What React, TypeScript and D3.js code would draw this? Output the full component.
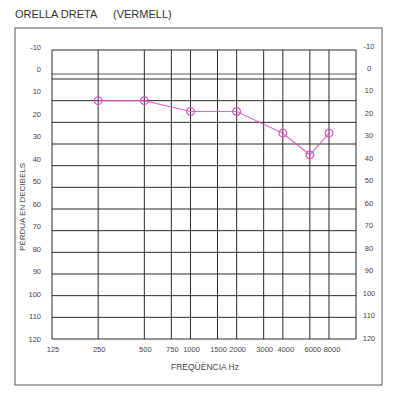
import { useEffect, useRef } from 'react';
import * as d3 from 'd3';

const frequencies = [250, 500, 1000, 2000, 4000, 6000, 8000];
const lossDb = [10, 10, 15, 15, 25, 35, 25];
const freqTicks = [125, 250, 500, 750, 1000, 1500, 2000, 3000, 4000, 6000, 8000];
const dbTicks = [-10, 0, 10, 20, 30, 40, 50, 60, 70, 80, 90, 100, 110, 120];

const W = 400;
const H = 395;
const NARROW = '"Liberation Sans Narrow", "Liberation Sans", Arial, sans-serif';
const SANS = '"Liberation Sans", Arial, sans-serif';
const INK = '#2a2a2a';
const PINK = '#dc4fbf';

const App = () => {
  const svgRef = useRef<SVGSVGElement>(null);

  useEffect(() => {
    const svg = d3.select(svgRef.current);
    svg.selectAll('*').remove();

    // scanned form: top gap (-10..0) is a bit taller than the others
    const x = d3.scaleLog().domain([125, 12000]).range([52, 356]);
    const y = d3.scaleLinear().domain([-10, 0, 120]).range([50, 79, 339]);
    const yLabel = d3.scaleLinear().domain([-10, 120]).range([47, 339]);

    // outer frame
    svg
      .append('rect')
      .attr('x', 15)
      .attr('y', 28)
      .attr('width', 367)
      .attr('height', 357)
      .attr('fill', 'none')
      .attr('stroke', '#555')
      .attr('stroke-width', 1);

    svg
      .append('text')
      .attr('x', 15)
      .attr('y', 18)
      .attr('font-family', SANS)
      .attr('font-size', 11)
      .attr('fill', '#333')
      .text('ORELLA DRETA');

    svg
      .append('text')
      .attr('x', 113)
      .attr('y', 18)
      .attr('font-family', SANS)
      .attr('font-size', 11)
      .attr('fill', '#333')
      .text('(VERMELL)');

    const grid = svg.append('g').attr('stroke', INK).attr('stroke-width', 1);

    grid
      .selectAll('.h')
      .data(dbTicks)
      .join('line')
      .attr('class', 'h')
      .attr('x1', x(125))
      .attr('x2', x(12000))
      .attr('y1', (d) => y(d))
      .attr('y2', (d) => y(d));

    // double rule at 0 dB
    grid
      .append('line')
      .attr('x1', x(125))
      .attr('x2', x(12000))
      .attr('y1', y(0) - 5)
      .attr('y2', y(0) - 5)
      .attr('stroke-width', 0.8);

    grid
      .selectAll('.v')
      .data([...freqTicks, 12000])
      .join('line')
      .attr('class', 'v')
      .attr('x1', (d) => x(d))
      .attr('x2', (d) => x(d))
      .attr('y1', y(-10))
      .attr('y2', y(120));

    const labels = svg
      .append('g')
      .attr('font-family', NARROW)
      .attr('font-size', 7.5)
      .attr('fill', '#444');

    labels
      .selectAll('.yl')
      .data(dbTicks)
      .join('text')
      .attr('class', 'yl')
      .attr('x', 41)
      .attr('y', (d) => yLabel(d))
      .attr('text-anchor', 'end')
      .attr('dominant-baseline', 'central')
      .text((d) => d);

    labels
      .selectAll('.yr')
      .data(dbTicks)
      .join('text')
      .attr('class', 'yr')
      .attr('x', 369)
      .attr('y', (d) => yLabel(d) - 1)
      .attr('text-anchor', 'middle')
      .attr('dominant-baseline', 'central')
      .text((d) => d);

    labels
      .selectAll('.xl')
      .data(freqTicks)
      .join('text')
      .attr('class', 'xl')
      .attr('x', (d) => x(d) + (d >= 4000 ? 3 : 1))
      .attr('y', 349)
      .attr('text-anchor', 'middle')
      .attr('dominant-baseline', 'central')
      .text((d) => d);

    svg
      .append('text')
      .attr('transform', 'translate(22, 207) rotate(-90)')
      .attr('text-anchor', 'middle')
      .attr('dominant-baseline', 'central')
      .attr('font-family', SANS)
      .attr('font-size', 8)
      .attr('fill', '#444')
      .text('PÉRDUA EN DECIBELS');

    svg
      .append('text')
      .attr('x', 205)
      .attr('y', 367)
      .attr('text-anchor', 'middle')
      .attr('dominant-baseline', 'central')
      .attr('font-family', SANS)
      .attr('font-size', 8.5)
      .attr('fill', '#444')
      .text('FREQÜÈNCIA Hz');

    const points = frequencies.map((f, i) => ({ f, db: lossDb[i] }));

    const lineGen = d3
      .line<{ f: number; db: number }>()
      .x((d) => x(d.f))
      .y((d) => y(d.db));

    svg
      .append('path')
      .datum(points)
      .attr('d', lineGen)
      .attr('fill', 'none')
      .attr('stroke', PINK)
      .attr('stroke-opacity', 0.85)
      .attr('stroke-width', 1.2);

    svg
      .selectAll('.pt')
      .data(points)
      .join('circle')
      .attr('class', 'pt')
      .attr('cx', (d) => x(d.f))
      .attr('cy', (d) => y(d.db))
      .attr('r', 3.8)
      .attr('fill', 'none')
      .attr('stroke', PINK)
      .attr('stroke-width', 1.3);
  }, []);

  return (
    <svg
      ref={svgRef}
      width={W}
      height={H}
      style={{ position: 'absolute', left: 0, top: 0, background: '#fff' }}
    />
  );
};

export default App;
